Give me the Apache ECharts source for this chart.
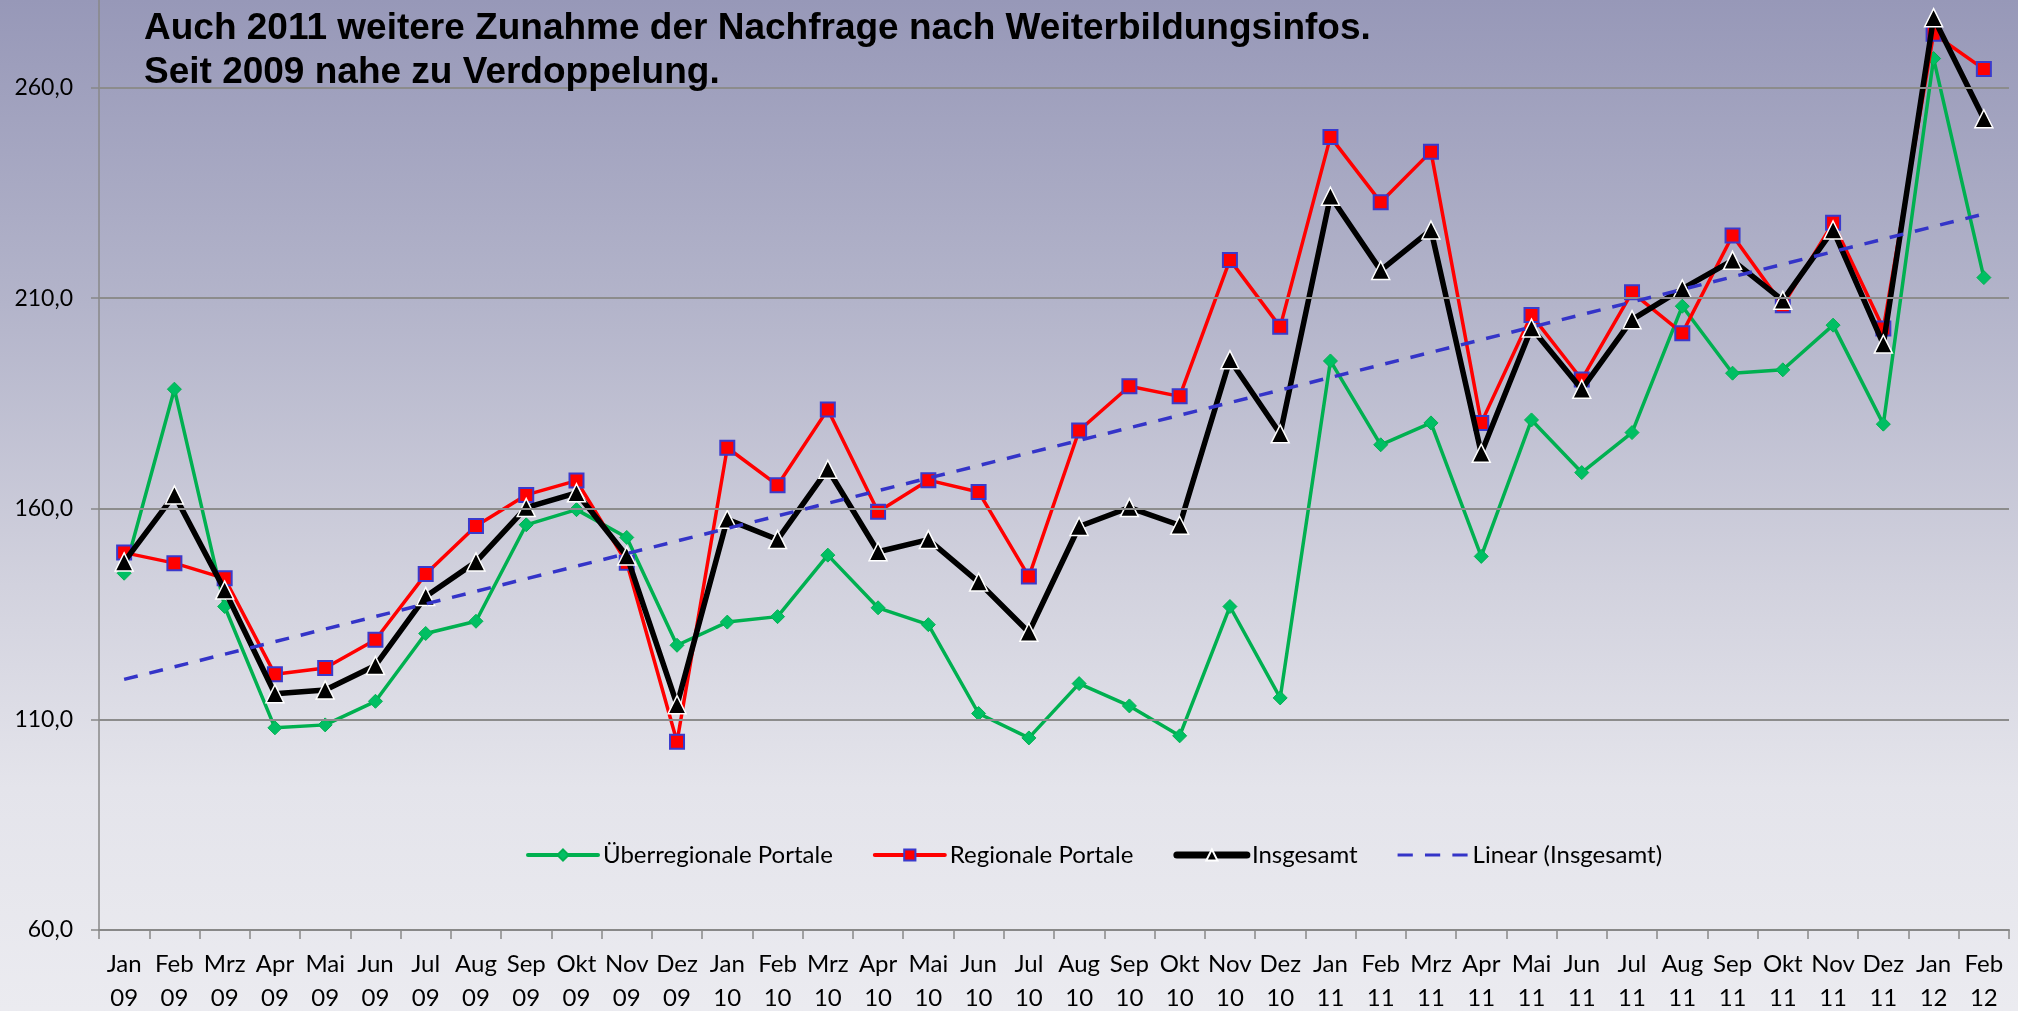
<!DOCTYPE html>
<html>
<head>
<meta charset="utf-8">
<script src="https://cdn.jsdelivr.net/npm/echarts@6/dist/echarts.min.js"></script>
<style>
html,body{margin:0;padding:0;}
body{width:2018px;height:1011px;background:linear-gradient(180deg,#9798b8 0%,#b3b4ca 30%,#d2d2de 58%,#e4e4eb 78%,#ebebf0 100%);}
#chart{width:2018px;height:1011px;}
</style>
</head>
<body>
<div id="chart"></div>
<script>
// Categories (month + year)
const categories = [
  'Jan 09','Feb 09','Mrz 09','Apr 09','Mai 09','Jun 09','Jul 09','Aug 09','Sep 09','Okt 09','Nov 09','Dez 09',
  'Jan 10','Feb 10','Mrz 10','Apr 10','Mai 10','Jun 10','Jul 10','Aug 10','Sep 10','Okt 10','Nov 10','Dez 10',
  'Jan 11','Feb 11','Mrz 11','Apr 11','Mai 11','Jun 11','Jul 11','Aug 11','Sep 11','Okt 11','Nov 11','Dez 11',
  'Jan 12','Feb 12'
];
// Überregionale Portale
const ueberregional = [
  144.7,188.4,136.8,108.0,108.7,114.3,130.4,133.3,156.2,159.8,153.2,127.6,
  133.1,134.4,149.0,136.5,132.5,111.4,105.6,118.5,113.2,106.1,136.8,115.1,
  195.1,175.2,180.4,148.7,181.1,168.6,178.1,208.1,192.2,193.0,203.6,180.1,
  266.9,214.9
];
// Regionale Portale
const regional = [
  149.6,147.1,143.5,120.7,122.2,128.9,144.5,155.9,163.3,166.7,147.2,104.7,
  174.5,165.6,183.6,159.3,166.8,164.0,143.9,178.6,189.1,186.7,219.1,203.2,
  248.3,232.8,244.8,180.4,206.0,190.7,211.4,201.7,224.9,208.3,227.9,202.8,
  272.8,264.4
];
// Insgesamt
const insgesamt = [
  147.4,163.3,140.7,116.1,117.0,122.8,139.2,147.4,160.3,163.8,148.8,113.5,
  157.5,152.7,169.4,149.8,152.7,142.6,130.7,155.8,160.3,156.1,195.4,177.8,
  234.2,216.6,226.2,173.2,202.9,188.4,204.9,212.2,219.0,209.5,226.2,199.1,
  276.6,252.6
];
// Linear trend (Insgesamt): values read at first and last month
const trendStart = 119.5;
const trendEnd = 230.0;
// Y tick values
const gridValues = [110, 160, 210, 260];
const yMin = 60, yMax = 280.8, yInterval = 50;

const seriesNames = ['Überregionale Portale','Regionale Portale','Insgesamt','Linear (Insgesamt)'];
const trendData = categories.map((c,i)=> i===0 ? trendStart : (i===categories.length-1 ? trendEnd : null));

const chart = echarts.init(document.getElementById('chart'), null, {renderer:'canvas'});
const labelFont = 'Lato, "Open Sans", sans-serif';
chart.setOption({
  animation:false,
  backgroundColor:'transparent',
  title:{
    text:'Auch 2011 weitere Zunahme der Nachfrage nach Weiterbildungsinfos.\nSeit 2009 nahe zu Verdoppelung.',
    left:144, top:7, padding:0,
    textStyle:{fontFamily:'"Liberation Sans", Arial, sans-serif', fontWeight:'bold', fontSize:37, lineHeight:44, color:'#000'}
  },
  legend:{
    data:[
      {name:seriesNames[0], lineStyle:{width:4, cap:'round'}},
      {name:seriesNames[1], lineStyle:{width:4, cap:'round'}},
      {name:seriesNames[2], lineStyle:{width:7, cap:'round'}},
      {name:seriesNames[3], icon:'path://M0,0h15v3h-15z M27,0h15v3h-15z M54,0h15v3h-15z'}
    ],
    left:521, top:838,
    itemWidth:70, itemHeight:14, itemGap:40,
    textStyle:{fontFamily:labelFont, fontSize:24, color:'#000'}
  },
  grid:{left:99, right:9, top:0, bottom:81, containLabel:false, outerBoundsMode:'none'},
  xAxis:{
    type:'category', data:categories, boundaryGap:true,
    axisLine:{show:true, lineStyle:{color:'#888', width:2}},
    axisTick:{show:true, length:9, lineStyle:{color:'#888', width:1.5}},
    axisLabel:{interval:0, fontFamily:labelFont, fontSize:24, lineHeight:34, margin:17, color:'#000',
      formatter:(v)=>v.replace(' ','\n')},
    splitLine:{show:false}
  },
  yAxis:{
    type:'value', min:yMin, max:yMax, interval:yInterval,
    axisLine:{show:true, lineStyle:{color:'#888', width:1.5}},
    axisTick:{show:true, length:8, lineStyle:{color:'#888', width:1.5}},
    axisLabel:{fontFamily:labelFont, fontSize:23, color:'#000', margin:26, showMaxLabel:false,
      formatter:(v)=> ((v-yMin)%yInterval===0 ? v.toFixed(1).replace('.',',') : '')},
    splitLine:{show:false}
  },
  series:[
    {name:'_grid', type:'line', data:[], z:1, silent:true,
      markLine:{silent:true, symbol:['none','none'], label:{show:false},
        lineStyle:{color:'#8c8c8c', width:2, type:'solid'},
        emphasis:{disabled:true},
        data:gridValues.map(v=>({yAxis:v}))}},
    {name:seriesNames[0], type:'line', data:ueberregional, z:2,
      symbol:'diamond', symbolSize:14,
      lineStyle:{color:'#00b050', width:3.5},
      itemStyle:{color:'#00bf63', borderColor:'#00b050', borderWidth:1}},
    {name:seriesNames[1], type:'line', data:regional, z:3,
      symbol:'rect', symbolSize:14,
      lineStyle:{color:'#ff0000', width:3.5},
      itemStyle:{color:'#ff0000', borderColor:'#3a3acc', borderWidth:2}},
    {name:seriesNames[2], type:'line', data:insgesamt, z:4,
      symbol:'triangle', symbolSize:18,
      lineStyle:{color:'#000', width:5.5},
      itemStyle:{color:'#000', borderColor:'#fff', borderWidth:1.5}},
    {name:seriesNames[3], type:'line', data:trendData, z:5, connectNulls:true,
      symbol:'none', showSymbol:false,
      lineStyle:{color:'#3434c8', width:3.5, type:[14,12]},
      itemStyle:{color:'#3434c8'}}
  ]
});
</script>
</body>
</html>
